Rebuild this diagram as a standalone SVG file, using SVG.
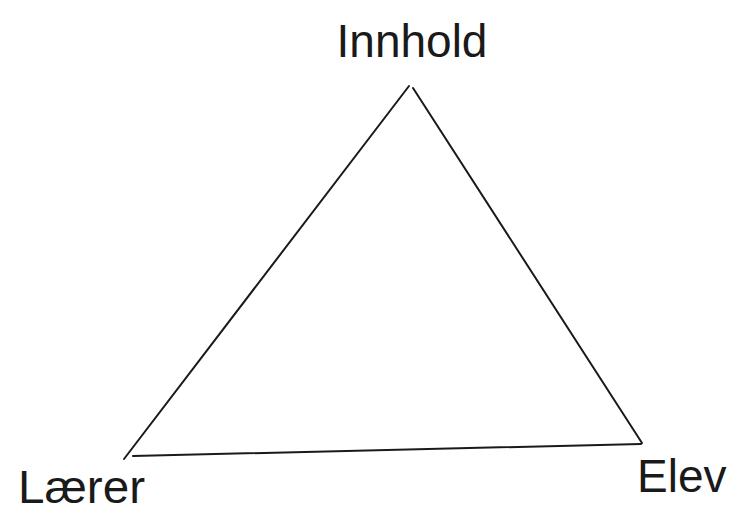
<svg xmlns="http://www.w3.org/2000/svg" width="732" height="509" viewBox="0 0 732 509">
<style>
.lbl{font-family:"Liberation Sans",Arial,sans-serif;font-size:46px;fill:#1a1a1a}
.edge{stroke:#1a1a1a;stroke-width:2;fill:none;stroke-linecap:round}
</style>
<rect width="732" height="509" fill="#fff"/>
<g id="connectors">
<line class="edge" x1="409" y1="86" x2="124" y2="459"/>
<line class="edge" x1="413" y1="88" x2="642" y2="443"/>
<line class="edge" x1="133" y1="456" x2="641" y2="444"/>
</g>
<g id="innhold"><text class="lbl" x="412" y="57" text-anchor="middle">Innhold</text></g>
<g id="laerer"><text class="lbl" x="18" y="503" textLength="127" lengthAdjust="spacingAndGlyphs">Lærer</text></g>
<g id="elev"><text class="lbl" x="637" y="492">Elev</text></g>
</svg>
